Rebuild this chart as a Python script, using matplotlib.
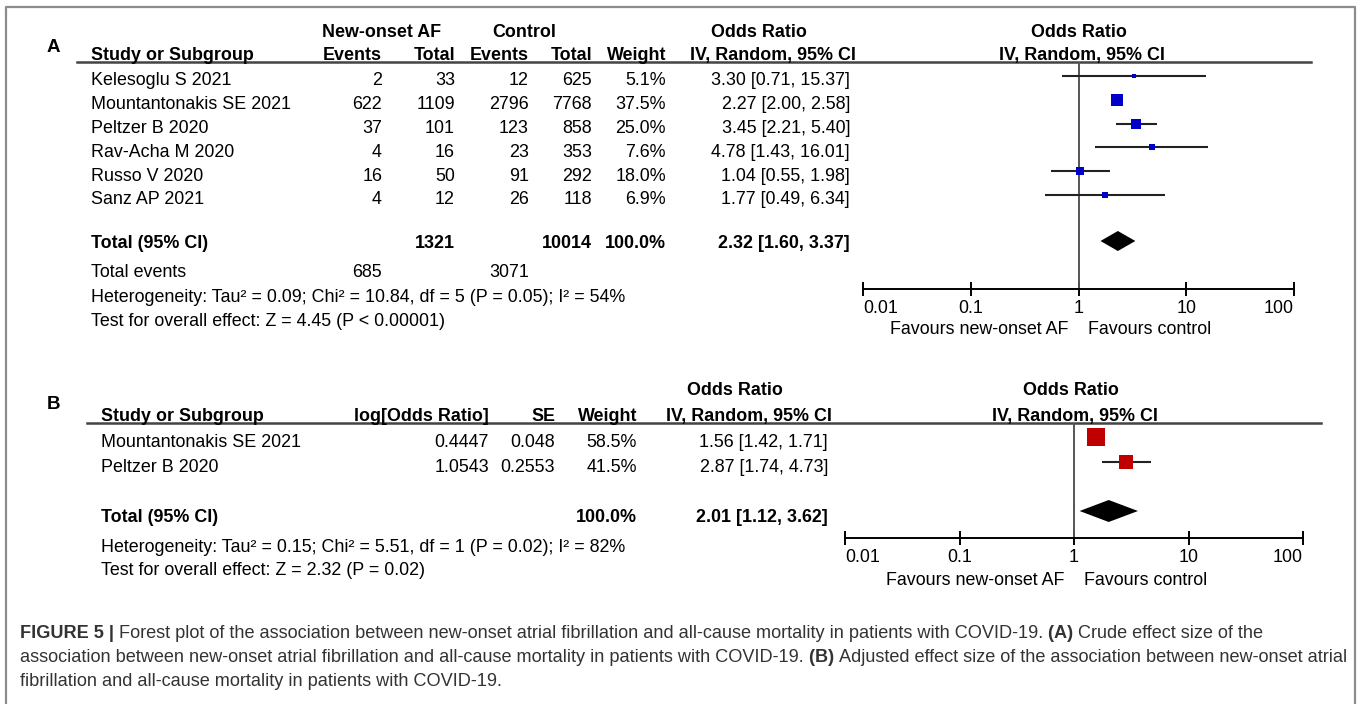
import numpy as np
import matplotlib
matplotlib.use("Agg")
import matplotlib.pyplot as plt

plt.rcParams["font.family"] = ["Liberation Sans", "DejaVu Sans"]

W, H = 1357, 704
DPI = 100

# ---- panel A: crude ----
studies_a = ["Kelesoglu S 2021", "Mountantonakis SE 2021", "Peltzer B 2020",
             "Rav-Acha M 2020", "Russo V 2020", "Sanz AP 2021"]
af_events = [2, 622, 37, 4, 16, 4]
af_total = [33, 1109, 101, 16, 50, 12]
ctl_events = [12, 2796, 123, 23, 91, 26]
ctl_total = [625, 7768, 858, 353, 292, 118]
weight_a = [5.1, 37.5, 25.0, 7.6, 18.0, 6.9]
or_a = [3.30, 2.27, 3.45, 4.78, 1.04, 1.77]
lo_a = [0.71, 2.00, 2.21, 1.43, 0.55, 0.49]
hi_a = [15.37, 2.58, 5.40, 16.01, 1.98, 6.34]
pooled_a = (2.32, 1.60, 3.37)
tot_af_a, tot_ctl_a = 1321, 10014
ev_af_a, ev_ctl_a = 685, 3071
het_a = "Heterogeneity: Tau² = 0.09; Chi² = 10.84, df = 5 (P = 0.05); I² = 54%"
test_a = "Test for overall effect: Z = 4.45 (P < 0.00001)"

# ---- panel B: adjusted ----
studies_b = ["Mountantonakis SE 2021", "Peltzer B 2020"]
log_or_b = ["0.4447", "1.0543"]
se_b = ["0.048", "0.2553"]
weight_b = [58.5, 41.5]
or_b = [1.56, 2.87]
lo_b = [1.42, 1.74]
hi_b = [1.71, 4.73]
pooled_b = (2.01, 1.12, 3.62)
het_b = "Heterogeneity: Tau² = 0.15; Chi² = 5.51, df = 1 (P = 0.02); I² = 82%"
test_b = "Test for overall effect: Z = 2.32 (P = 0.02)"

ticks = [0.01, 0.1, 1, 10, 100]
tick_labels = ["0.01", "0.1", "1", "10", "100"]

caption = [
    [("FIGURE 5 | ", "bold"),
     ("Forest plot of the association between new-onset atrial fibrillation and all-cause mortality in patients with COVID-19. ", "normal"),
     ("(A) ", "bold"), ("Crude effect size of the", "normal")],
    [("association between new-onset atrial fibrillation and all-cause mortality in patients with COVID-19. ", "normal"),
     ("(B) ", "bold"), ("Adjusted effect size of the association between new-onset atrial", "normal")],
    [("fibrillation and all-cause mortality in patients with COVID-19.", "normal")],
]

FS = 12.9
GRAY = "#444444"

fig = plt.figure(figsize=(W / DPI, H / DPI), dpi=DPI)
bg = fig.add_axes([0, 0, 1, 1], zorder=0)
bg.set_xlim(0, W)
bg.set_ylim(H, 0)
bg.axis("off")


def txt(x, y, s, ha="left", bold=False, size=FS, color="black"):
    # y = vertical centre of the capitals, in pixels
    bg.text(x, y + 0.36 * size / 0.72, s, ha=ha, va="baseline", fontsize=size,
            fontweight="bold" if bold else "normal", color=color)


def forest_axes(x0, x1, ytop, ybot):
    ax = fig.add_axes([x0 / W, 1 - ybot / H, (x1 - x0) / W, (ybot - ytop) / H], zorder=2)
    ax.patch.set_alpha(0)
    ax.set_xscale("log")
    ax.set_xlim(0.01, 100)
    ax.set_ylim(ybot, ytop)
    for s in ("top", "left", "right"):
        ax.spines[s].set_visible(False)
    ax.spines["bottom"].set_linewidth(1.4)
    ax.set_yticks([])
    ax.set_xticks(ticks)
    ax.set_xticklabels(tick_labels, fontsize=FS)
    ax.minorticks_off()
    ax.tick_params(axis="x", direction="inout", length=10, width=1.4, pad=3)
    labs = ax.get_xticklabels()
    labs[0].set_ha("left")
    labs[-1].set_ha("right")
    ax.axvline(1, color="#555555", lw=1.4)
    return ax


# outer frame
bg.plot([6, 6, 1355, 1355], [H, 7, 7, H], color="#8c8c8c", lw=1.6, clip_on=False)

# ================= Panel A =================
txt(47, 45, "A", bold=True, size=13.5)
hy1, hy2, line_a = 31, 54, 62
txt(382, hy1, "New-onset AF", ha="center", bold=True)
txt(524, hy1, "Control", ha="center", bold=True)
txt(759, hy1, "Odds Ratio", ha="center", bold=True)
txt(1079, hy1, "Odds Ratio", ha="center", bold=True)
txt(91, hy2, "Study or Subgroup", bold=True)
cols_a = [382, 455, 529, 592, 666]
for x, s in zip(cols_a, ["Events", "Total", "Events", "Total", "Weight"]):
    txt(x, hy2, s, ha="right", bold=True)
txt(856, hy2, "IV, Random, 95% CI", ha="right", bold=True)
txt(1082, hy2, "IV, Random, 95% CI", ha="center", bold=True)
bg.plot([77, 1311], [line_a, line_a], color=GRAY, lw=1.8)

rows_a = 76 + 23.8 * np.arange(len(studies_a))
for i, y in enumerate(rows_a):
    ty = y + 3
    txt(91, ty, studies_a[i])
    txt(cols_a[0], ty, str(af_events[i]), ha="right")
    txt(cols_a[1], ty, str(af_total[i]), ha="right")
    txt(cols_a[2], ty, str(ctl_events[i]), ha="right")
    txt(cols_a[3], ty, str(ctl_total[i]), ha="right")
    txt(cols_a[4], ty, f"{weight_a[i]:.1f}%", ha="right")
    txt(850, ty, f"{or_a[i]:.2f} [{lo_a[i]:.2f}, {hi_a[i]:.2f}]", ha="right")

ty_tot = 242
txt(91, ty_tot, "Total (95% CI)", bold=True)
txt(cols_a[1], ty_tot, str(tot_af_a), ha="right", bold=True)
txt(cols_a[3], ty_tot, str(tot_ctl_a), ha="right", bold=True)
txt(cols_a[4], ty_tot, "100.0%", ha="right", bold=True)
txt(850, ty_tot, f"{pooled_a[0]:.2f} [{pooled_a[1]:.2f}, {pooled_a[2]:.2f}]", ha="right", bold=True)
txt(91, 271, "Total events")
txt(cols_a[0], 271, str(ev_af_a), ha="right")
txt(cols_a[2], 271, str(ev_ctl_a), ha="right")
txt(91, 296, het_a)
txt(91, 320, test_a)

axA = forest_axes(863, 1294, line_a, 289)
axA.hlines(rows_a, lo_a, hi_a, color="#222222", lw=1.5)
for y, o, w in zip(rows_a, or_a, weight_a):
    axA.plot(o, y, "s", color="#0000c8", ms=1.45 * np.sqrt(w), mew=0)
d = pooled_a
axA.fill([d[1], d[0], d[2], d[0]], [241, 231, 241, 251], color="black", lw=0)
txt(1068, 328, "Favours new-onset AF", ha="right")
txt(1088, 328, "Favours control")

# ================= Panel B =================
txt(47, 402, "B", bold=True, size=13.5)
hy1b, hy2b, line_b = 389, 415, 423
txt(735, hy1b, "Odds Ratio", ha="center", bold=True)
txt(1071, hy1b, "Odds Ratio", ha="center", bold=True)
txt(101, hy2b, "Study or Subgroup", bold=True)
cols_b = [489, 555, 637]
for x, s in zip(cols_b, ["log[Odds Ratio]", "SE", "Weight"]):
    txt(x, hy2b, s, ha="right", bold=True)
txt(832, hy2b, "IV, Random, 95% CI", ha="right", bold=True)
txt(1075, hy2b, "IV, Random, 95% CI", ha="center", bold=True)
bg.plot([87, 1321], [line_b, line_b], color=GRAY, lw=1.8)

rows_b = 437 + 25 * np.arange(len(studies_b))
for i, y in enumerate(rows_b):
    ty = y + 4
    txt(101, ty, studies_b[i])
    txt(cols_b[0], ty, log_or_b[i], ha="right")
    txt(cols_b[1], ty, se_b[i], ha="right")
    txt(cols_b[2], ty, f"{weight_b[i]:.1f}%", ha="right")
    txt(828, ty, f"{or_b[i]:.2f} [{lo_b[i]:.2f}, {hi_b[i]:.2f}]", ha="right")

txt(101, 516, "Total (95% CI)", bold=True)
txt(cols_b[2], 516, "100.0%", ha="right", bold=True)
txt(828, 516, f"{pooled_b[0]:.2f} [{pooled_b[1]:.2f}, {pooled_b[2]:.2f}]", ha="right", bold=True)
txt(101, 546, het_b)
txt(101, 569, test_b)

axB = forest_axes(845, 1303, line_b, 538)
axB.hlines(rows_b, lo_b, hi_b, color="#222222", lw=1.5)
for y, o, w in zip(rows_b, or_b, weight_b):
    axB.plot(o, y, "s", color="#c00000", ms=1.65 * np.sqrt(w), mew=0)
d = pooled_b
axB.fill([d[1], d[0], d[2], d[0]], [511, 500, 511, 522], color="black", lw=0)
txt(1064, 579, "Favours new-onset AF", ha="right")
txt(1084, 579, "Favours control")

# ================= Caption =================
fig.canvas.draw()
renderer = fig.canvas.get_renderer()
CAP_FS = 13.1
for li, segs in enumerate(caption):
    x = 20
    y = 632 + 24 * li + 5.5
    for s, wt in segs:
        t = bg.text(x, y, s, ha="left", va="baseline", fontsize=CAP_FS, fontweight=wt,
                    color="#333333")
        x += t.get_window_extent(renderer=renderer).width

fig.savefig("out.png", dpi=DPI)
